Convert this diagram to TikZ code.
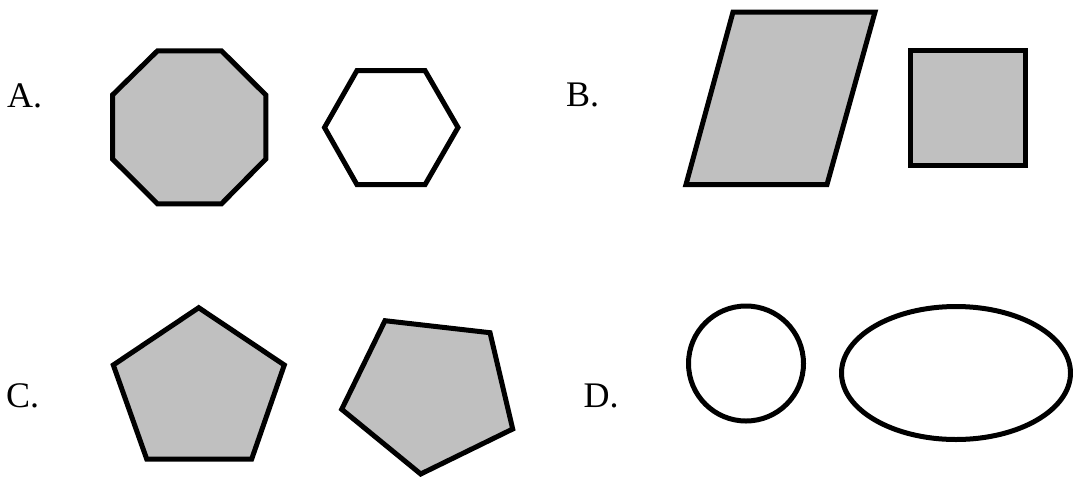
\documentclass[tikz,border=0pt]{standalone}
\usepackage{fontspec}
\setmainfont{Liberation Serif}
\definecolor{shapegray}{HTML}{C0C0C0}
\tikzset{
  shp/.style={draw=black, line width=5pt, line join=miter, miter limit=10},
  filled/.style={shp, fill=shapegray},
  hollow/.style={shp, fill=white},
  lbl/.style={inner sep=0pt, anchor=base west, font=\fontsize{36}{40}\selectfont}
}
\begin{document}
\begin{tikzpicture}[x=1pt, y=-1pt]
\useasboundingbox (0,0) rectangle (1073,477);
% labels
\node[lbl] (la) at (7,107) {A.};
\node[lbl] (lb) at (566,106) {B.};
\node[lbl] (lc) at (6,407) {C.};
\node[lbl] (ld) at (583.5,407) {D.};
% A: octagon and hexagon
\draw[filled] (157.5,50.8) -- (221.5,50.8) -- (265.8,95) -- (265.8,159) -- (221.5,203.8) -- (157.5,203.8) -- (112.5,159) -- (112.5,95) -- cycle;
\draw[hollow] (357,70.5) -- (425,70.5) -- (458,127.5) -- (425,184.7) -- (357,184.7) -- (324.5,127.5) -- cycle;
% B: parallelogram and square
\draw[filled] (733,12) -- (875,12) -- (827,184.5) -- (686,184.5) -- cycle;
\draw[filled] (910.5,50.5) rectangle (1025.5,165.5);
% C: two pentagons
\draw[filled] (198.7,307.7) -- (284.3,365) -- (251.7,459) -- (146.7,459) -- (113.3,365) -- cycle;
\draw[filled] (385,320.7) -- (490,332.7) -- (512.7,429) -- (420.7,474) -- (341.7,409.3) -- cycle;
% D: circle and ellipse
\draw[hollow] (746,363.5) circle[radius=57.5];
\draw[hollow] (956,373) ellipse[x radius=114.5, y radius=66.5];
\end{tikzpicture}
\end{document}
